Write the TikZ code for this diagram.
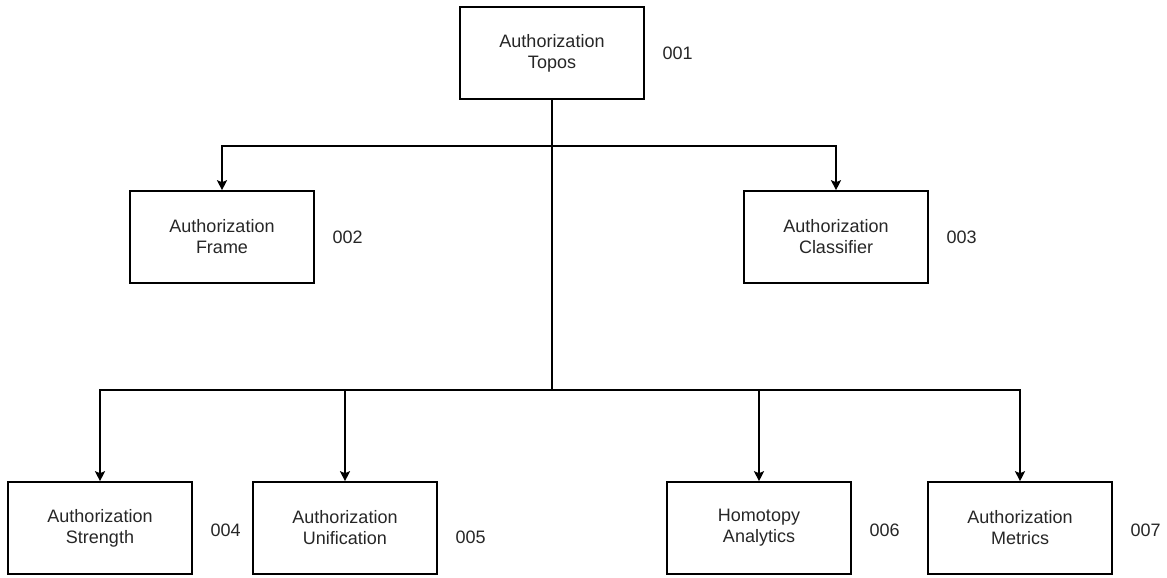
\documentclass[tikz,border=0pt]{standalone}
\usepackage{fontspec}
\setmainfont{Liberation Sans}
\usetikzlibrary{positioning,arrows.meta}
\tikzset{
  unit/.style={draw,line width=1.6pt,minimum width=184pt,minimum height=92pt,inner sep=0pt,align=center,text=black!85,font=\fontsize{18}{21}\selectfont},
  num/.style={anchor=west,inner sep=0pt,text=black!85,font=\fontsize{18}{21}\selectfont}
}
\begin{document}
\begin{tikzpicture}[x=1pt,y=-1pt,line width=1.6pt,>={Stealth[length=10pt,width=10pt,inset=2pt]}]
\useasboundingbox (0,0) rectangle (1167,578);

\node[unit] (topos) at (552,53) {Authorization\\Topos};
\node[unit] (frame) at (222,237) {Authorization\\Frame};
\node[unit] (classifier) at (836,237) {Authorization\\Classifier};
\node[unit] (strength) at (100,528) {Authorization\\Strength};
\node[unit] (unification) at (345,528) {Authorization\\Unification};
\node[unit] (homotopy) at (759,528) {Homotopy\\Analytics};
\node[unit] (metrics) at (1020,528) {Authorization\\Metrics};

\node[num,right=17pt of topos] (n1) {001};
\node[num,right=17pt of frame] (n2) {002};
\node[num,right=17pt of classifier] (n3) {003};
\node[num,right=17pt of strength,yshift=-2pt] (n4) {004};
\node[num,right=17pt of unification,yshift=-9pt] (n5) {005};
\node[num,right=17pt of homotopy,yshift=-2pt] (n6) {006};
\node[num,right=17pt of metrics,yshift=-2pt] (n7) {007};

\coordinate (upper) at (552,146);
\coordinate (lower) at (552,390);
\draw (topos.south) -- (lower);
\draw[->] (upper) -| (frame.north);
\draw[->] (upper) -| (classifier.north);
\draw[->] (lower) -| (strength.north);
\draw[->] (lower) -| (unification.north);
\draw[->] (lower) -| (homotopy.north);
\draw[->] (lower) -| (metrics.north);
\end{tikzpicture}
\end{document}
